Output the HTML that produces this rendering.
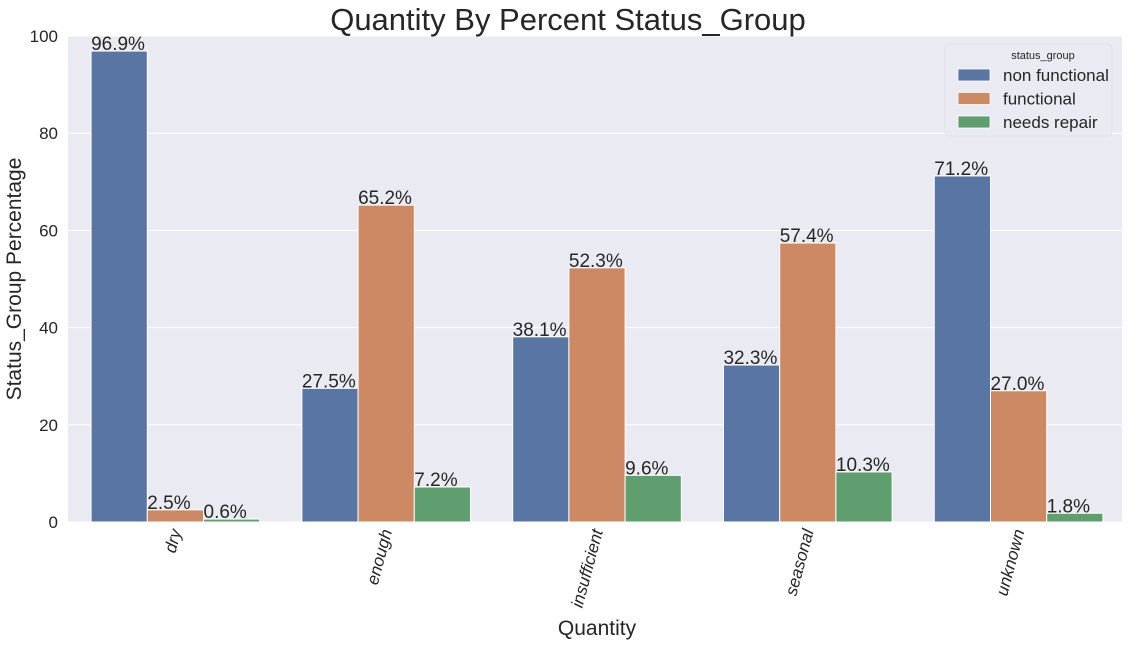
<!DOCTYPE html>
<html><head><meta charset="utf-8"><style>
body{margin:0;background:#fff;}
svg{display:block;font-family:"Liberation Sans",sans-serif;}
</style></head><body>
<svg id="chart" width="1128" height="645">
<rect x="0" y="0" width="1128" height="645" fill="#fff"/>
<rect x="68" y="36" width="1054" height="486" fill="#eaeaf2"/>
<g id="grid"></g><g id="bars"></g><g id="labels"></g><g id="axes"></g>
<text x="568" y="30" text-anchor="middle" font-size="31" fill="#262626">Quantity By Percent Status_Group</text>
<text x="597" y="635" text-anchor="middle" font-size="21" fill="#262626">Quantity</text>
<text transform="translate(21,279) rotate(-90)" text-anchor="middle" font-size="21" fill="#262626">Status_Group Percentage</text>
<g>
<rect x="945" y="44" width="167" height="92" rx="4" fill="#eaeaf2" stroke="#e0e0e8" stroke-width="0.8"/>
<text x="1043" y="59" text-anchor="middle" font-size="11" fill="#262626">status_group</text>
<g id="legend-items"></g>
</g>
</svg>
<script>
const categories=["dry","enough","insufficient","seasonal","unknown"];
const seriesNames=["non functional","functional","needs repair"];
const nonFunctional=[96.9,27.5,38.1,32.3,71.2];
const functional=[2.5,65.2,52.3,57.4,27.0];
const needsRepair=[0.6,7.2,9.6,10.3,1.8];
const yTicks=[0,20,40,60,80,100];
const colors=["#5975a4","#cc8963","#5f9e6e"];
const series=[nonFunctional,functional,needsRepair];
const NS="http://www.w3.org/2000/svg";
const X0=70,X1=1124,Y0=522,Y1=36;
const y=v=>Y0-(v/100)*(Y0-Y1);
const gw=(X1-X0)/categories.length;
const bw=gw*0.8/3;
const xc=i=>X0+gw*(i+0.5);
function mk(t,a,p){const e=document.createElementNS(NS,t);for(const k in a)e.setAttribute(k,a[k]);p.appendChild(e);return e;}
const grid=document.getElementById('grid'),axes=document.getElementById('axes'),bars=document.getElementById('bars'),labels=document.getElementById('labels');
yTicks.forEach(t=>{
 const l=mk('line',{x1:68,x2:1122,y1:y(t),y2:y(t),stroke:'#fff','stroke-width':1},grid);
 
 
 const tx=mk('text',{x:58,y:y(t)+6,'text-anchor':'end','font-size':17,fill:'#262626'},axes);
 tx.textContent=t;
 
 
});
categories.forEach((c,i)=>{
 const tx=mk('text',{transform:`translate(${xc(i)+6},${531}) rotate(-75)`,'text-anchor':'end','font-size':17,'font-style':'italic',fill:'#262626'},axes);
 tx.textContent=c;
 
 
 series.forEach((s,j)=>{
  const bx=xc(i)-gw*0.4+j*bw;
  const r=mk('rect',{x:bx,y:y(s[i]),width:bw,height:Y0-y(s[i]),fill:colors[j],stroke:'#fff','stroke-width':1},bars);
  
  
  const lt=mk('text',{x:bx,y:y(s[i])-1,'font-size':19,fill:'#262626'},labels);
  lt.textContent=s[i].toFixed(1)+'%';
  
  
 });
});
const li=document.getElementById('legend-items');
seriesNames.forEach((n,j)=>{
 const yy=75+j*23.5;
 const r=mk('rect',{x:958,y:yy-6,width:32,height:12,fill:colors[j],stroke:'#fff','stroke-width':0.8},li);
 
 
 const t=mk('text',{x:1003,y:yy+6,'font-size':17,fill:'#262626'},li);
 t.textContent=n;
 
 
});
</script>
</body></html>
